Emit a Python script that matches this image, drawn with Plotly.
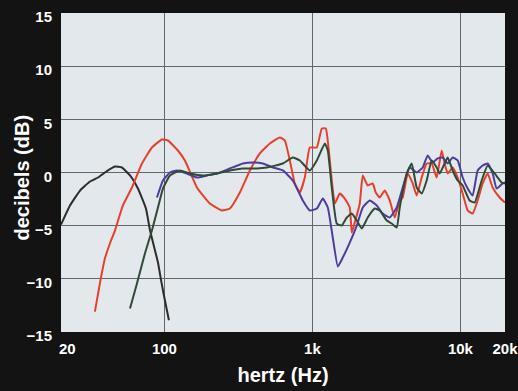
import plotly.graph_objects as go

# ---- data (frequency in Hz, level in dB) ----
black_f = [20, 23, 26.9, 31.4, 35.6, 39.6, 46.3, 51.6, 58.5, 66.2, 75.0, 79.8, 90.4, 94.7, 99.2, 107.2]
black_db = [-4.9, -3.1, -1.7, -0.85, -0.47, 0, 0.56, 0.47, -0.28, -1.51, -3.39, -5.4, -8.47, -10.07, -11.57, -13.9]

red_f = [33.9, 36.7, 39.6, 42.8, 46.3, 52.4, 60.3, 70.5, 82.3, 96.2, 105.6, 123.3, 137.5, 165.7, 202.8,
         244.4, 276.7, 323.3, 377.7, 441.2, 515.4, 602.0, 650.6, 703.4, 760.2, 821.6, 888.0, 959.8,
         1070, 1157, 1231, 1290, 1351, 1416, 1530, 1654, 1787, 1844, 1932, 2088, 2188, 2364, 2555,
         2677, 2849, 3080, 3329, 3597, 3889, 4074, 4404, 4759, 5063, 5473, 5914, 6392, 6908, 7467,
         7824, 8200, 8862, 9576, 10350, 11190, 12090, 13070, 14130, 15270, 16500, 18400, 20000]
red_db = [-13.08, -10.35, -8.09, -6.68, -5.46, -3.10, -1.41, 0.85, 2.35, 3.10, 3.01, 2.07, 1.13, -1.41, -2.92,
          -3.57, -3.39, -1.88, 0.19, 1.79, 2.73, 3.29, 3.01, 1.13, -1.03, -1.88, -0.47, 2.35,
          2.35, 4.14, 4.14, 2.07, -0.75, -2.92, -1.98, -2.45, -3.29, -5.64, -4.70, -2.92, -0.28, -1.22, -1.03,
          -1.88, -2.35, -1.69, -2.63, -4.23, -2.63, -2.35, -0.09, -1.03, -2.16, -0.47, 0.85, 0.85, -0.47, 2.07,
          0.85, -0.09, 0.47, -0.47, -1.98, -3.57, -3.86, -2.63, -1.03, -0.09, -1.41, -2.35, -2.82]

purple_f = [89.0, 97.7, 108.9, 121.4, 141.8, 165.7, 193.6, 226.1, 276.7, 338.8, 395.7, 462.3, 540.0, 630.8,
            736.9, 860.8, 959.8, 1070, 1175, 1270, 1372, 1484, 1603, 1787, 1993, 2188, 2439, 2719, 2985,
            3329, 3711, 4074, 4543, 5063, 5559, 6007, 6492, 7017, 7584, 8200, 8862, 9576, 10350, 11190,
            12090, 13070, 14130, 15270, 16500, 17560, 19280, 20000]
purple_db = [-2.35, -0.75, 0, 0.19, -0.09, -0.47, -0.28, -0.09, 0.38, 0.85, 0.94, 0.85, 0.47, 0.19,
             -0.75, -2.63, -3.57, -3.39, -2.45, -3.29, -6.11, -8.84, -8.00, -6.59, -4.99, -3.29, -2.63, -3.10, -3.86,
             -4.23, -3.29, -1.41, 0.47, 0, 0.47, 1.60, 0.94, 1.32, 1.41, 0.85, 1.41, 1.13, -0.47, -1.51,
             -2.16, 0.19, 0.66, 0.85, -0.09, -1.51, -1.03, -0.94]

green_f = [58.5, 65.2, 73.8, 82.3, 90.4, 97.7, 108.9, 127.2, 148.6, 181.9, 226.1, 276.7, 338.8, 421.1,
           491.9, 630.8, 736.9, 821.6, 959.8, 1070, 1212, 1270, 1351, 1460, 1579, 1706, 1844, 1993, 2154,
           2364, 2636, 2849, 3177, 3434, 3711, 3889, 4335, 4686, 5063, 5473, 5914, 6392, 6908, 7238,
           7824, 8200, 8862, 9576, 10350, 11540, 12470, 13910, 15270, 17020, 18980, 20000]
green_db = [-12.79, -10.44, -7.62, -5.46, -3.29, -1.51, -0.28, 0.19, -0.09, -0.28, -0.09, 0.19, 0.38, 0.38,
            0.47, 0.85, 1.41, 1.13, 0.19, 1.13, 2.73, 2.07, -1.41, -4.80, -4.99, -4.23, -3.86, -4.52, -5.27,
            -4.23, -3.39, -3.57, -4.52, -4.80, -5.17, -3.29, -0.09, 0.85, -1.41, -1.98, -0.75, 1.13, 0.47, -0.09,
            0.85, 1.41, 0.19, -0.75, -1.22, -2.63, -2.82, -0.75, 0.66, -0.09, -0.94, -1.03]

x_tickvals = [20, 100, 1000, 10000, 20000]
x_ticktext = ["\u00a0\u00a0\u00a020", "100", "1k", "10k", "20k"]
y_tickvals = [-15, -10, -5, 0, 5, 10, 15]
y_ticktext = ["\u221215", "\u221210", "\u22125", "0", "5", "10", "15"]

fig = go.Figure()
series = [
    (black_f, black_db, "#2c2c2c"),
    (red_f, red_db, "#e6402b"),
    (purple_f, purple_db, "#4d3c9c"),
    (green_f, green_db, "#2f4a35"),
]
for fx, dby, col in series:
    fig.add_trace(go.Scatter(x=fx, y=dby, mode="lines",
                             line=dict(color=col, width=2, shape="spline", smoothing=0.4),
                             hoverinfo="skip", showlegend=False))

fig.update_layout(
    width=518, height=391,
    margin=dict(l=61, r=13, t=13, b=59),
    paper_bgcolor="#131313",
    plot_bgcolor="#e3e8ed",
    font=dict(family="Liberation Sans, Arial, sans-serif", color="white"),
)
fig.update_xaxes(
    type="log", range=[1.30103, 4.30103],
    tickvals=x_tickvals, ticktext=x_ticktext,
    showgrid=True, gridcolor="#62666b", gridwidth=1,
    zeroline=False, showline=False, ticks="",
    tickfont=dict(size=15, color="white", weight="bold"),
    ticklabelstandoff=6, ticklabeloverflow="allow",
    title=dict(text="hertz (Hz)", font=dict(size=20, color="white", weight="bold"), standoff=11),
    automargin=False,
)
fig.update_yaxes(
    range=[-15, 15],
    tickvals=y_tickvals, ticktext=y_ticktext,
    showgrid=True, gridcolor="#62666b", gridwidth=1,
    zeroline=False, showline=False, ticks="",
    tickfont=dict(size=15, color="white", weight="bold"),
    ticklabelstandoff=8, ticklabelshift=4, ticklabeloverflow="allow",
    automargin=False,
)
fig.add_annotation(
    text="decibels (dB)", textangle=-90, showarrow=False,
    xref="paper", yref="paper", x=0, y=0.5, xanchor="center", yanchor="middle",
    xshift=-40, yshift=-5,
    font=dict(size=20, color="white", weight="bold"),
)

fig.write_html("out.html", config={"displayModeBar": False},
               post_script="document.body.style.margin='0';document.body.style.background='#131313';")
